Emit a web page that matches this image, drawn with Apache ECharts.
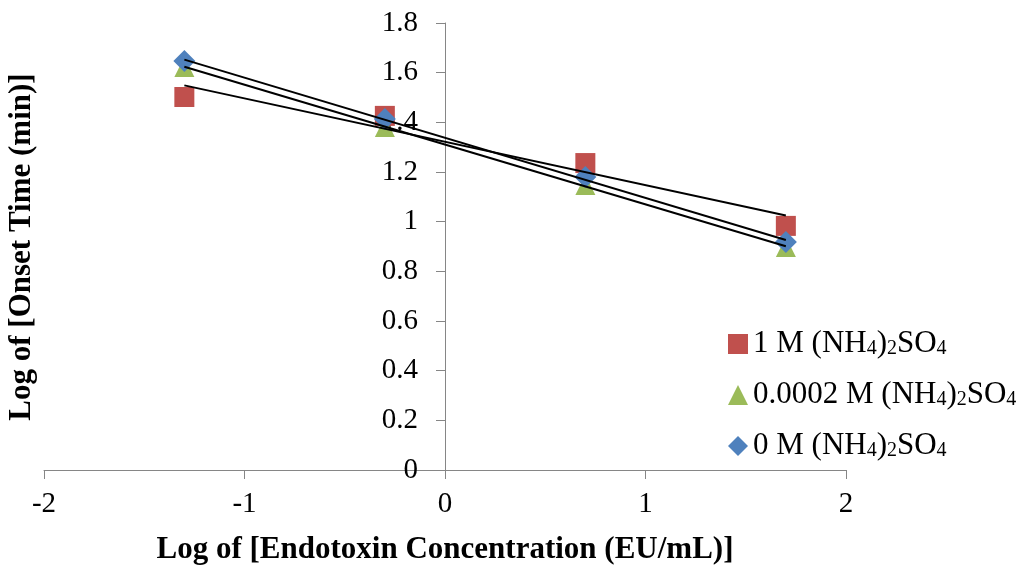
<!DOCTYPE html>
<html><head><meta charset="utf-8">
<script src="https://cdn.jsdelivr.net/npm/echarts@6/dist/echarts.min.js"></script>
<style>html,body{margin:0;padding:0;background:#fff}#c{width:1031px;height:569px}</style>
</head><body><div id="c"></div>
<script>
const logConc = [-1.3, -0.3, 0.7, 1.7];
const onset1M = [1.502, 1.426, 1.236, 0.983];
const onset00002M = [1.623, 1.381, 1.148, 0.898];
const onset0M = [1.647, 1.413, 1.180, 0.918];
const seriesNames = ['1 M (NH4)2SO4', '0.0002 M (NH4)2SO4', '0 M (NH4)2SO4'];
const legendRich = ['{t|1 M (NH}{s|4}{t|)}{s|2}{t|SO}{s|4}', '{t|0.0002 M (NH}{s|4}{t|)}{s|2}{t|SO}{s|4}', '{t|0 M (NH}{s|4}{t|)}{s|2}{t|SO}{s|4}'];
const xTicks = [-2, -1, 0, 1, 2];
const yTicks = [0, 0.2, 0.4, 0.6, 0.8, 1, 1.2, 1.4, 1.6, 1.8];
const xTitle = 'Log of [Endotoxin Concentration (EU/mL)]';
const yTitle = 'Log of [Onset Time (min)]';

function fit(xs, ys) {
  const n = xs.length;
  const mx = xs.reduce((a, b) => a + b, 0) / n;
  const my = ys.reduce((a, b) => a + b, 0) / n;
  let sxy = 0, sxx = 0;
  for (let i = 0; i < n; i++) { sxy += (xs[i] - mx) * (ys[i] - my); sxx += (xs[i] - mx) ** 2; }
  const b = sxy / sxx, a = my - b * mx;
  const x0 = Math.min(...xs), x1 = Math.max(...xs);
  return [[x0, a + b * x0], [x1, a + b * x1]];
}

const all = [onset1M, onset00002M, onset0M];
const colors = ['#C0504D', '#9BBB59', '#4F81BD'];
const symbols = ['rect', 'triangle', 'diamond'];
const sizes = [20, 20, 22];
const series = [];
all.forEach((ys, i) => {
  series.push({
    name: seriesNames[i], type: 'scatter', symbol: symbols[i], symbolSize: sizes[i],
    itemStyle: { color: colors[i], opacity: 1 }, z: 2,
    data: logConc.map((x, j) => [x, ys[j]])
  });
});
all.forEach((ys, i) => {
  series.push({
    name: 'trend' + i, type: 'line', symbol: 'none', z: 3, silent: true,
    lineStyle: { color: '#000', width: 2 },
    data: fit(logConc, ys)
  });
});

const font = '"Liberation Serif", "Times New Roman", serif';
const gridLeft = 44, gridRight = 185, W = 1031;
const plotW = W - gridLeft - gridRight;
const chart = echarts.init(document.getElementById('c'));
chart.setOption({
  animation: false,
  textStyle: { fontFamily: font },
  grid: { left: gridLeft, right: gridRight, top: 23, bottom: 99, outerBoundsMode: 'none', containLabel: false },
  xAxis: {
    type: 'value', min: -2, max: 2, interval: 1,
    axisLine: { show: true, onZero: true, lineStyle: { color: '#868686', width: 1 } },
    axisTick: { show: true, length: 9, lineStyle: { color: '#868686' } },
    splitLine: { show: false },
    axisLabel: { fontFamily: font, fontSize: 29, color: '#000', margin: 20 },
    name: xTitle, nameLocation: 'middle', nameGap: 64,
    nameTextStyle: { fontFamily: font, fontSize: 31, fontWeight: 'bold', color: '#000' }
  },
  yAxis: {
    type: 'value', min: 0, max: 1.8, interval: 0.2, position: 'left',
    offset: -plotW / 2,
    axisLine: { show: true, onZero: false, lineStyle: { color: '#868686', width: 1 } },
    axisTick: { show: true, length: 9, lineStyle: { color: '#868686' } },
    splitLine: { show: false },
    axisLabel: { fontFamily: font, fontSize: 29, color: '#000', margin: 27,
      formatter: v => String(+(+v).toFixed(1)) }
  },
  graphic: [{
    type: 'text', x: 22, y: 247, rotation: Math.PI / 2,
    style: { text: yTitle, font: 'bold 31px ' + font, fill: '#000', align: 'center', verticalAlign: 'middle' }
  }],
  legend: {
    data: seriesNames.map((n, i) => ({ name: n, icon: symbols[i] })),
    orient: 'vertical', left: 723, top: 323, itemGap: 20, itemWidth: 20, itemHeight: 20,
    formatter: name => legendRich[seriesNames.indexOf(name)],
    textStyle: {
      fontFamily: font, color: '#000',
      rich: {
        t: { fontFamily: font, fontSize: 31, color: '#000', lineHeight: 30, verticalAlign: 'bottom' },
        s: { fontFamily: font, fontSize: 20, color: '#000', lineHeight: 30, verticalAlign: 'bottom', padding: [10, 0, 0, 0] }
      }
    }
  },
  series
});
</script>
</body></html>
